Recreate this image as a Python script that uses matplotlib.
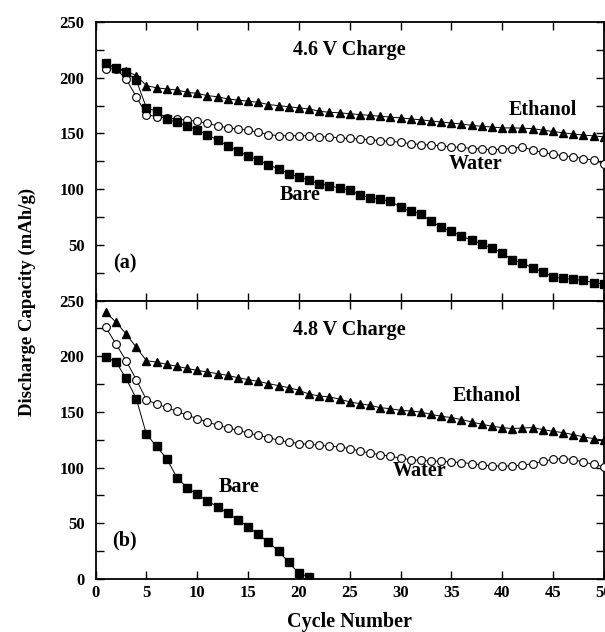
import matplotlib
matplotlib.use('Agg')
import matplotlib.pyplot as plt
from matplotlib.ticker import MultipleLocator
import numpy as np

plt.rcParams['font.family'] = ['Liberation Serif', 'DejaVu Serif']
plt.rcParams['font.weight'] = 'bold'
plt.rcParams['axes.labelweight'] = 'bold'

ciclos = np.arange(1, 51)

# painel (a) - carga 4.6 V
bare_46 = [213, 209, 205, 198, 173, 170, 163, 160, 157, 153,
           149, 144, 139, 134, 130, 126, 122, 118, 114, 111,
           108, 105, 103, 101, 99, 95, 92, 91, 89, 84,
           80, 78, 71, 66, 62, 58, 54, 51, 47, 43,
           36, 34, 29, 26, 21, 20, 19, 18, 16, 15]
water_46 = [208, 208, 199, 183, 167, 165, 164, 163, 162, 161,
            159, 157, 155, 154, 153, 151, 149, 148, 148, 148,
            148, 147, 147, 146, 145.5, 145, 144.5, 143.5, 143, 142,
            141, 140, 139.5, 139, 138, 137.5, 136.5, 136, 135.5, 136,
            136.5, 138, 135, 133, 131.5, 130, 129, 127.5, 126, 123]
ethanol_46 = [211, 209, 206, 202, 193, 191, 190, 189, 187, 186,
              184, 183, 181, 180, 179, 178, 176, 175, 174, 173,
              172, 170, 169, 168.6, 167.7, 167, 166.2, 165.5, 164.7, 164,
              163.1, 162.3, 161.2, 160.3, 159.4, 158.5, 157.3, 156.4, 155.8, 155,
              155, 154.8, 154.3, 153, 151.8, 150.6, 149.5, 148.6, 147.8, 147]

# painel (b) - carga 4.8 V
ciclos_bare_48 = np.arange(1, 22)
bare_48 = [199, 195, 180, 162, 130, 119, 108, 91, 82, 76,
           70, 65, 59, 53, 47, 40, 33, 25, 15, 5, 2]
water_48 = [226, 211, 196, 179, 161, 157, 154, 150.5, 147, 144,
            141, 138, 135.6, 133.5, 131, 129, 127, 124.6, 123, 121.6,
            121, 120, 119.2, 118.6, 117, 115, 113, 111.5, 110.2, 108.5,
            107.2, 106.5, 106, 105.5, 105.1, 104.5, 103.6, 102.5, 101.5, 101.3,
            101.5, 102.2, 103.6, 105.5, 107.5, 108.1, 107.2, 105, 103, 100.6]
ethanol_48 = [239.5, 230.6, 220, 208, 196, 194.7, 192.7, 191, 189, 187.3,
              185.8, 184.3, 182.8, 180.7, 179, 177.4, 175.4, 173.6, 171.8, 169.4,
              166, 164.3, 163.4, 161.5, 159, 157.4, 155.9, 153.8, 152.9, 151.4,
              150.8, 149.9, 147.8, 146.1, 144.9, 143.1, 141, 138.9, 137.1, 135.9,
              135, 135.6, 135.9, 134.1, 132.6, 131.4, 129.6, 127.5, 126, 124.6]

fig = plt.figure(figsize=(6.05, 6.32), dpi=100)
ax1 = fig.add_axes([0.158, 0.5245, 0.840, 0.4405])
ax2 = fig.add_axes([0.158, 0.0839, 0.840, 0.4406])

def desenha(ax, x_bare, bare, water, ethanol):
    ax.plot(ciclos, ethanol, color='black', lw=0.7, marker='^', ms=6.2,
            mfc='black', mec='black', zorder=3)
    ax.plot(ciclos, water, color='black', lw=0.7, marker='o', ms=5.6,
            mfc='white', mec='black', mew=0.8, zorder=4)
    ax.plot(x_bare, bare, color='black', lw=0.7, marker='s', ms=5.3,
            mfc='black', mec='black', zorder=5)
    ax.set_xlim(0, 50)
    ax.set_ylim(0, 250)
    ax.xaxis.set_major_locator(MultipleLocator(5))
    ax.yaxis.set_major_locator(MultipleLocator(50))
    ax.yaxis.set_minor_locator(MultipleLocator(25))
    ax.tick_params(which='both', direction='in', top=True, right=True,
                   length=6, width=1.0, labelsize=12)
    ax.tick_params(axis='y', pad=8)
    ax.tick_params(axis='x', pad=4)
    for s in ax.spines.values():
        s.set_linewidth(1.3)

desenha(ax1, ciclos, bare_46, water_46, ethanol_46)
desenha(ax2, ciclos_bare_48, bare_48, water_48, ethanol_48)

ax1.set_xticklabels([])
ax1.set_yticks([50, 100, 150, 200, 250])

fs = 14.5
ax1.text(24.95, 224.8, '4.6 V Charge', fontsize=fs, ha='center', va='center')
ax1.text(44.0, 170.7, 'Ethanol', fontsize=fs, ha='center', va='center')
ax1.text(37.4, 123, 'Water', fontsize=fs, ha='center', va='center')
ax1.text(20.1, 95, 'Bare', fontsize=fs, ha='center', va='center')
ax1.text(2.85, 32.9, '(a)', fontsize=fs, ha='center', va='center')

ax2.text(24.95, 223.1, '4.8 V Charge', fontsize=fs, ha='center', va='center')
ax2.text(38.5, 164, 'Ethanol', fontsize=fs, ha='center', va='center')
ax2.text(31.9, 96.8, 'Water', fontsize=fs, ha='center', va='center')
ax2.text(14.1, 82.4, 'Bare', fontsize=fs, ha='center', va='center')
ax2.text(2.85, 35, '(b)', fontsize=fs, ha='center', va='center')

ax2.set_xlabel('Cycle Number', fontsize=14.5, labelpad=8)
fig.text(0.045, 0.522, 'Discharge Capacity (mAh/g)', rotation=90,
         fontsize=13.5, ha='center', va='center')

fig.savefig('out.png', dpi=100)
